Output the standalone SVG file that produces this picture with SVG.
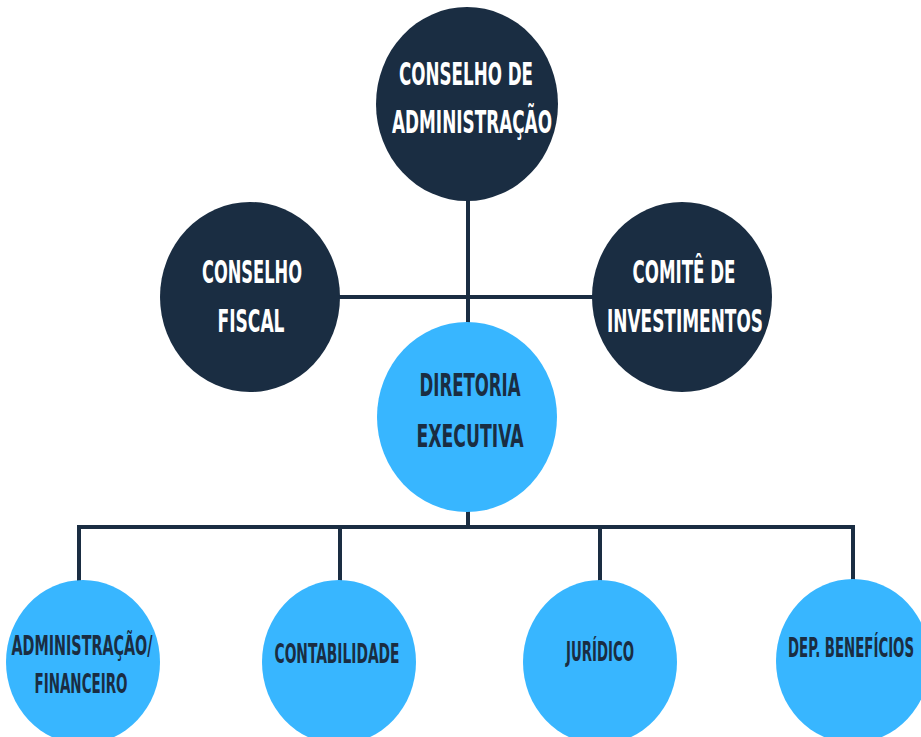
<svg xmlns="http://www.w3.org/2000/svg" width="921" height="737" viewBox="0 0 921 737">
<style>
.dark{fill:#1a2d42}
.light{fill:#38b6ff}
.conn{stroke:#1a2d42;stroke-width:4;fill:none;stroke-linecap:square}
.t{font-family:"Liberation Sans Narrow","DejaVu Sans Condensed","Liberation Sans",sans-serif;font-weight:bold;text-anchor:middle}
.tw{fill:#ffffff;font-size:32px}
.td{fill:#1a2d42;font-size:32px}
.ts{fill:#1a2d42;font-size:26px}
</style>
<rect width="921" height="737" fill="#ffffff"/>
<g id="connectors">
<path class="conn" d="M468 200 V322"/>
<path class="conn" d="M340 297 H593"/>
<path class="conn" d="M468 512 V527"/>
<path class="conn" d="M79 580 V527 H853 V580"/>
<path class="conn" d="M340 527 V580"/>
<path class="conn" d="M600 527 V580"/>
</g>
<g id="conselho-administracao">
<ellipse class="dark" cx="467" cy="104" rx="91" ry="97"/>
<text class="t tw" x="466" y="85" textLength="134" lengthAdjust="spacingAndGlyphs">CONSELHO DE</text>
<text class="t tw" x="472" y="133" textLength="160" lengthAdjust="spacingAndGlyphs">ADMINISTRAÇÃO</text>
</g>
<g id="conselho-fiscal">
<ellipse class="dark" cx="250" cy="297" rx="90" ry="95"/>
<text class="t tw" x="252" y="283" textLength="100" lengthAdjust="spacingAndGlyphs">CONSELHO</text>
<text class="t tw" x="251" y="332" textLength="67" lengthAdjust="spacingAndGlyphs">FISCAL</text>
</g>
<g id="comite-investimentos">
<ellipse class="dark" cx="682" cy="297" rx="90" ry="95"/>
<text class="t tw" x="684" y="283" textLength="103" lengthAdjust="spacingAndGlyphs">COMITÊ DE</text>
<text class="t tw" x="685" y="332" textLength="156" lengthAdjust="spacingAndGlyphs">INVESTIMENTOS</text>
</g>
<g id="diretoria-executiva">
<ellipse class="light" cx="467" cy="417" rx="90" ry="95"/>
<text class="t td" x="470" y="396" textLength="101" lengthAdjust="spacingAndGlyphs">DIRETORIA</text>
<text class="t td" x="470" y="447" textLength="107" lengthAdjust="spacingAndGlyphs">EXECUTIVA</text>
</g>
<g id="administracao-financeiro">
<ellipse class="light" cx="83" cy="662" rx="77" ry="82"/>
<text class="t ts" x="82" y="655" textLength="141" lengthAdjust="spacingAndGlyphs">ADMINISTRAÇÃO/</text>
<text class="t ts" x="81" y="693" textLength="93" lengthAdjust="spacingAndGlyphs">FINANCEIRO</text>
</g>
<g id="contabilidade">
<ellipse class="light" cx="339" cy="662" rx="77" ry="82"/>
<text class="t ts" x="337" y="663" textLength="125" lengthAdjust="spacingAndGlyphs">CONTABILIDADE</text>
</g>
<g id="juridico">
<ellipse class="light" cx="600" cy="662" rx="77" ry="82"/>
<text class="t ts" x="600" y="661" textLength="68" lengthAdjust="spacingAndGlyphs">JURÍDICO</text>
</g>
<g id="dep-beneficios">
<ellipse class="light" cx="853" cy="661" rx="77" ry="82"/>
<text class="t ts" x="851" y="657" textLength="126" lengthAdjust="spacingAndGlyphs">DEP. BENEFÍCIOS</text>
</g>
</svg>
